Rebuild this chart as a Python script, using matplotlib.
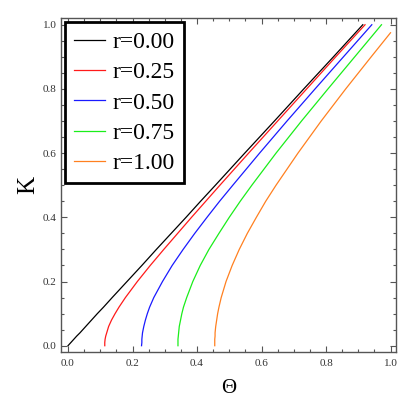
import matplotlib
matplotlib.use("Agg")
from matplotlib import pyplot as plt
from matplotlib.ticker import MultipleLocator

# K levels (y) and Theta (x) for each r
K = [0.0, 0.01, 0.02, 0.03, 0.04, 0.06, 0.08, 0.1, 0.12, 0.15, 0.2, 0.25, 0.3, 0.35, 0.4, 0.45, 0.5, 0.6, 0.7, 0.8, 0.9, 1.0]

theta_r000 = [0.0, 0.009, 0.018, 0.027, 0.037, 0.055, 0.073, 0.091, 0.110, 0.137, 0.183, 0.229, 0.274, 0.320, 0.366, 0.411, 0.457, 0.548, 0.640, 0.731, 0.823, 0.914]
theta_r025 = [0.114, 0.114, 0.115, 0.117, 0.120, 0.126, 0.135, 0.146, 0.158, 0.178, 0.215, 0.255, 0.297, 0.340, 0.383, 0.427, 0.471, 0.560, 0.650, 0.740, 0.830, 0.921]
theta_r050 = [0.228, 0.229, 0.229, 0.230, 0.231, 0.235, 0.240, 0.246, 0.253, 0.266, 0.293, 0.323, 0.357, 0.393, 0.431, 0.470, 0.511, 0.594, 0.679, 0.766, 0.854, 0.942]
theta_r075 = [0.341, 0.341, 0.341, 0.342, 0.343, 0.345, 0.349, 0.353, 0.358, 0.368, 0.387, 0.410, 0.437, 0.468, 0.500, 0.534, 0.570, 0.645, 0.724, 0.806, 0.889, 0.972]

K_r100 = [0.0, 0.01, 0.02, 0.03, 0.04, 0.06, 0.08, 0.1, 0.12, 0.15, 0.2, 0.25, 0.3, 0.35, 0.4, 0.45, 0.5, 0.6, 0.7, 0.8, 0.9, 0.975]
theta_r100 = [0.455, 0.455, 0.455, 0.456, 0.456, 0.458, 0.461, 0.464, 0.468, 0.475, 0.490, 0.509, 0.531, 0.556, 0.584, 0.613, 0.645, 0.713, 0.785, 0.861, 0.940, 1.0]

labels = ["r=0.00", "r=0.25", "r=0.50", "r=0.75", "r=1.00"]
colors = ["black", "#ff1a1a", "#1a1aff", "#1aee1a", "#ff8020"]

serif = ["Liberation Serif", "DejaVu Serif"]

fig = plt.figure(figsize=(4.18, 3.99), dpi=100)
ax = fig.add_axes([61/418, 47/399, 335/418, 334/399])

curves = [(theta_r000, K), (theta_r025, K), (theta_r050, K), (theta_r075, K), (theta_r100, K_r100)]
for (x, y), c, lab in zip(curves, colors, labels):
	ax.plot(x, y, color=c, lw=0.9, label=lab)

ax.set_xlim(-0.0217, 1.017)
ax.set_ylim(-0.0196, 1.021)

ax.xaxis.set_minor_locator(MultipleLocator(0.05))
ax.yaxis.set_minor_locator(MultipleLocator(0.05))
ax.tick_params(which="both", direction="in", top=True, right=True, color="#555555", width=0.8)
ax.tick_params(which="major", length=4)
ax.tick_params(which="minor", length=2.2)
ax.tick_params(axis="x", pad=5)
ax.tick_params(axis="y", pad=3)

ticks = [0, 0.2, 0.4, 0.6, 0.8, 1.0]
tick_labels = ["0.0", "0.2", "0.4", "0.6", "0.8", "1.0"]
ax.set_xticks(ticks)
ax.set_xticklabels(tick_labels, family=serif, fontsize=8, color="#333333")
ax.set_yticks(ticks)
ax.set_yticklabels(tick_labels, family=serif, fontsize=8, color="#333333")

for s in ax.spines.values():
	s.set_color("#555555")
	s.set_linewidth(1.0)

ax.set_xlabel("Θ", family=serif, fontsize=15, labelpad=8)
ax.set_ylabel("K", family=serif, fontsize=18, labelpad=3)

leg = ax.legend(loc="upper left", bbox_to_anchor=(4/335, 1 - 4/334), borderaxespad=0,
	prop={"family": serif, "size": 17}, fancybox=False, framealpha=1,
	edgecolor="black", handlelength=1.3, handletextpad=0.3, labelspacing=0.37,
	borderpad=0.4)
leg.get_frame().set_linewidth(2.0)

fig.savefig("out.png", dpi=100)
